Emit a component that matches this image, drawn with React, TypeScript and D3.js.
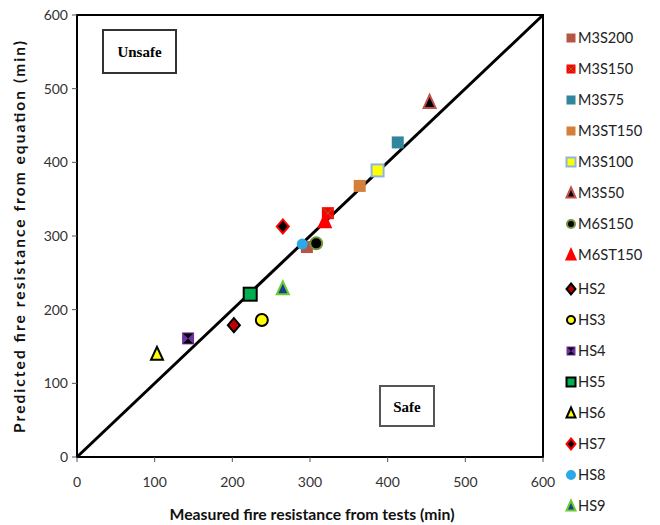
import React from "react";
import * as d3 from "d3";

const seriesNames = ["M3S200", "M3S150", "M3S75", "M3ST150", "M3S100", "M3S50", "M6S150", "M6ST150",
  "HS2", "HS3", "HS4", "HS5", "HS6", "HS7", "HS8", "HS9"];
const measured = [296, 323, 413, 364, 387, 454, 308, 319, 202, 238, 143, 223, 103, 265, 290, 265];
const predicted = [285, 331, 427, 368, 389, 482, 290, 320, 179, 186, 161, 221, 140, 313, 289, 229];
const ticks = [0, 100, 200, 300, 400, 500, 600];

// marker style per series: shape, fill, stroke
const shapes = ["squareX", "squareX", "square", "square", "square", "triangle", "circle", "triangle",
  "diamond", "circle", "bowtie", "square", "triangle", "diamond", "circle", "triangle"];
const fills = ["#C0504D", "#FF0000", "#31859C", "#D47F3A", "#FFFF00", "#000000", "#000000", "#FF0000",
  "#C00000", "#FFFF00", "#7030A0", "#00B050", "#FFFF00", "#000000", "#2DA9E8", "#1F3C88"];
const strokes = ["#C0504D", "#FF0000", "#31859C", "#D47F3A", "#8DB4E2", "#C0504D", "#77933C", "#FF0000",
  "#000000", "#000000", "#7030A0", "#000000", "#000000", "#FF0000", "#2DA9E8", "#66CC33"];

const W = 660, H = 525;
const m = { left: 77, right: 543, top: 15, bottom: 457 };

const Marker = ({ shape, fill, stroke, x, y, s }: any) => {
  const h = s / 2;
  if (shape === "circle") return <circle cx={x} cy={y} r={h} fill={fill} stroke={stroke} strokeWidth={2} />;
  if (shape === "triangle")
    return <path d={`M${x},${y - h - 1}L${x + h},${y + h}L${x - h},${y + h}Z`} fill={fill} stroke={stroke} strokeWidth={2} />;
  if (shape === "diamond")
    return <path d={`M${x},${y - h - 1}L${x + h},${y}L${x},${y + h + 1}L${x - h},${y}Z`} fill={fill} stroke={stroke} strokeWidth={2} />;
  if (shape === "bowtie")
    return (
      <g>
        <rect x={x - h} y={y - h} width={s} height={s} fill={fill} />
        <path d={`M${x - h + 1},${y - h + 1}L${x + h - 1},${y - h + 1}L${x - h + 1},${y + h - 1}L${x + h - 1},${y + h - 1}Z`} fill="#000" />
      </g>
    );
  const sw = stroke === "#000000" || stroke === "#8DB4E2" ? 2 : 0;
  return (
    <g>
      <rect x={x - h} y={y - h} width={s} height={s} fill={fill} stroke={stroke} strokeWidth={sw} />
      {shape === "squareX" && (
        <path d={`M${x - h + 1},${y - h + 1}L${x + h - 1},${y + h - 1}M${x + h - 1},${y - h + 1}L${x - h + 1},${y + h - 1}`} stroke="#8B6D1E" strokeWidth={1} />
      )}
    </g>
  );
};

export default function App() {
  const x = d3.scaleLinear().domain([0, 600]).range([m.left, m.right]);
  const y = d3.scaleLinear().domain([0, 600]).range([m.bottom, m.top]);
  const font = "Lato, 'Open Sans', sans-serif";
  const sizes = seriesNames.map((n, i) => (n === "HS5" ? 13 : n === "HS8" ? 9 : shapes[i] === "circle" ? 12 : 12));

  return (
    <svg width={W} height={H} style={{ position: "absolute", left: 0, top: 0, background: "#fff" }}>
      <rect x={m.left} y={m.top} width={m.right - m.left} height={m.bottom - m.top} fill="none" stroke="#000" strokeWidth={2} />
      {ticks.map((t) => (
        <g key={"x" + t}>
          <line x1={x(t)} x2={x(t)} y1={m.bottom} y2={m.bottom + 5} stroke="#555" />
          <text x={x(t)} y={m.bottom + 30} textAnchor="middle" fontFamily={font} fontSize={14} fill="#333">{t}</text>
        </g>
      ))}
      {ticks.map((t) => (
        <g key={"y" + t}>
          <line x1={m.left - 5} x2={m.left} y1={y(t)} y2={y(t)} stroke="#555" />
          <text x={m.left - 9} y={y(t) + 5} textAnchor="end" fontFamily={font} fontSize={14} fill="#333">{t}</text>
        </g>
      ))}
      <line x1={x(0)} y1={y(0)} x2={x(600)} y2={y(600)} stroke="#000" strokeWidth={3} />
      <rect x={103} y={30} width={73} height={43} fill="#fff" stroke="#333" strokeWidth={2} />
      <text x={139.5} y={57} textAnchor="middle" fontFamily="'Liberation Serif', serif" fontWeight="bold" fontSize={15}>Unsafe</text>
      <rect x={380} y={386} width={54} height={40} fill="#fff" stroke="#555" strokeWidth={2} />
      <text x={407} y={412} textAnchor="middle" fontFamily="'Liberation Serif', serif" fontWeight="bold" fontSize={15}>Safe</text>
      {seriesNames.map((n, i) => (
        <Marker key={n} shape={shapes[i]} fill={fills[i]} stroke={strokes[i]} x={x(measured[i])} y={y(predicted[i])} s={sizes[i]} />
      ))}
      {seriesNames.map((n, i) => {
        const ly = 38 + i * 31 + (i >= 8 ? 3 : 0);
        return (
          <g key={"l" + n}>
            <Marker shape={shapes[i]} fill={fills[i]} stroke={strokes[i]} x={571} y={ly} s={shapes[i] === "circle" ? 8 : 9} />
            <text x={578} y={ly + 5} fontFamily={font} fontSize={14.5} fill="#222" textLength={n.length * 9.2} lengthAdjust="spacingAndGlyphs">{n}</text>
          </g>
        );
      })}
      <text x={312} y={520} textAnchor="middle" fontFamily={font} fontWeight="bold" fontSize={15.5} fill="#111" textLength={285} lengthAdjust="spacingAndGlyphs">Measured fire resistance from tests (min)</text>
      <text transform={`translate(25,${237}) rotate(-90)`} textAnchor="middle" fontFamily={font} fontWeight="bold" fontSize={15.5} fill="#111" textLength={392} lengthAdjust="spacing">Predicted fire resistance from equation (min)</text>
    </svg>
  );
}
